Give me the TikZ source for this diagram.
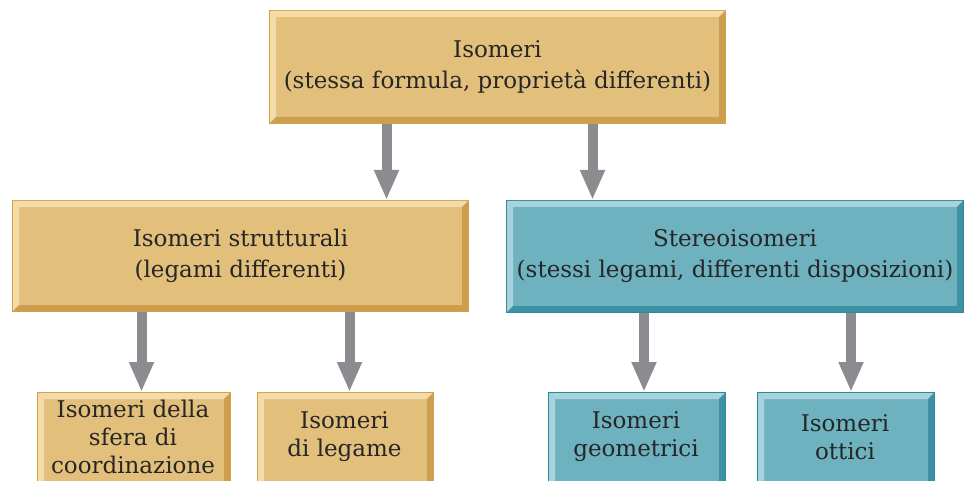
\documentclass[tikz,border=0pt]{standalone}
\usepackage{fontspec}
\setmainfont{DejaVu Serif}
\usetikzlibrary{arrows.meta,calc}

% palette
\definecolor{tanface}{RGB}{227,191,124}
\definecolor{tanedge}{RGB}{212,163,72}
\definecolor{tanlight}{RGB}{243,220,170}
\definecolor{tandark}{RGB}{205,158,78}
\definecolor{tealface}{RGB}{110,178,192}
\definecolor{tealedge}{RGB}{40,140,160}
\definecolor{teallight}{RGB}{168,210,220}
\definecolor{tealdark}{RGB}{62,145,162}
\definecolor{arrowgray}{RGB}{140,140,144}

\tikzset{
  box/.style={rectangle, inner sep=0pt, align=center, anchor=north west,
    font=\fontsize{23}{31}\selectfont, text=black!85},
  tanbox/.style={box, fill=tanface, draw=tanedge, line width=2pt},
  tealbox/.style={box, fill=tealface, draw=tealedge, line width=2pt},
  lowtext/.style={rectangle, font=\fontsize{23}{28}\selectfont, text=black!85,
    align=center, inner sep=0pt},
  flow/.style={line width=10pt, draw=arrowgray,
    -{Triangle[length=30pt,width=23pt]}},
}

% bevelled rim of a box: #1 node, #2 highlight, #3 shadow
\newcommand\bevelrim[3]{%
  \fill[#2] ($(#1.north west)+(1,1)$) -- ($(#1.north east)+(-1,1)$)
    -- ($(#1.north east)+(-7,7)$) -- ($(#1.north west)+(7,7)$) -- cycle;
  \fill[#2] ($(#1.north west)+(1,1)$) -- ($(#1.north west)+(7,7)$)
    -- ($(#1.south west)+(7,-7)$) -- ($(#1.south west)+(1,-1)$) -- cycle;
  \fill[#3] ($(#1.south west)+(1,-1)$) -- ($(#1.south east)+(-1,-1)$)
    -- ($(#1.south east)+(-7,-7)$) -- ($(#1.south west)+(7,-7)$) -- cycle;
  \fill[#3] ($(#1.north east)+(-1,1)$) -- ($(#1.south east)+(-1,-1)$)
    -- ($(#1.south east)+(-7,-7)$) -- ($(#1.north east)+(-7,7)$) -- cycle;
}

\begin{document}
\begin{tikzpicture}[x=1pt, y=-1pt]
  \useasboundingbox (0,0) rectangle (964,481);

  % boxes
  \node[tanbox, minimum width=455pt, minimum height=112pt] (top) at (269,10)
    {Isomeri\\(stessa formula, proprietà differenti)};
  \node[tanbox, minimum width=455pt, minimum height=110pt] (struct) at (12,200)
    {Isomeri strutturali\\(legami differenti)};
  \node[tealbox, minimum width=456pt, minimum height=111pt] (stereo) at (506,200)
    {Stereoisomeri\\(stessi legami, differenti disposizioni)};
  \node[tanbox, minimum width=192pt, minimum height=100pt] (sfera) at (37,392) {};
  \node[tanbox, minimum width=175pt, minimum height=100pt] (legame) at (257,392) {};
  \node[tealbox, minimum width=176pt, minimum height=100pt] (geom) at (548,392) {};
  \node[tealbox, minimum width=176pt, minimum height=100pt] (ottici) at (757,392) {};

  \bevelrim{top}{tanlight}{tandark}
  \bevelrim{struct}{tanlight}{tandark}
  \bevelrim{stereo}{teallight}{tealdark}
  \bevelrim{sfera}{tanlight}{tandark}
  \bevelrim{legame}{tanlight}{tandark}
  \bevelrim{geom}{teallight}{tealdark}
  \bevelrim{ottici}{teallight}{tealdark}

  % labels of the lowest row (the boxes run past the lower edge)
  \node[lowtext] (sferatxt) at (133,437) {Isomeri della\\sfera di\\coordinazione};
  \node[lowtext] (legametxt) at (344.5,437) {Isomeri\\di legame};
  \node[lowtext] (geomtxt) at (636,437) {Isomeri\\geometrici};
  \node[lowtext] (otticitxt) at (845,437) {Isomeri\\ottici};

  % connectors
  \draw[flow] ([xshift=-111pt]top.south) -- ([xshift=-111pt]top.south |- struct.north);
  \draw[flow] ([xshift=95pt]top.south) -- ([xshift=95pt]top.south |- stereo.north);
  \draw[flow] ([xshift=-99pt]struct.south) -- ([xshift=-99pt]struct.south |- sfera.north);
  \draw[flow] ([xshift=109pt]struct.south) -- ([xshift=109pt]struct.south |- legame.north);
  \draw[flow] ([xshift=-91pt]stereo.south) -- ([xshift=-91pt]stereo.south |- geom.north);
  \draw[flow] ([xshift=116pt]stereo.south) -- ([xshift=116pt]stereo.south |- ottici.north);
\end{tikzpicture}
\end{document}
